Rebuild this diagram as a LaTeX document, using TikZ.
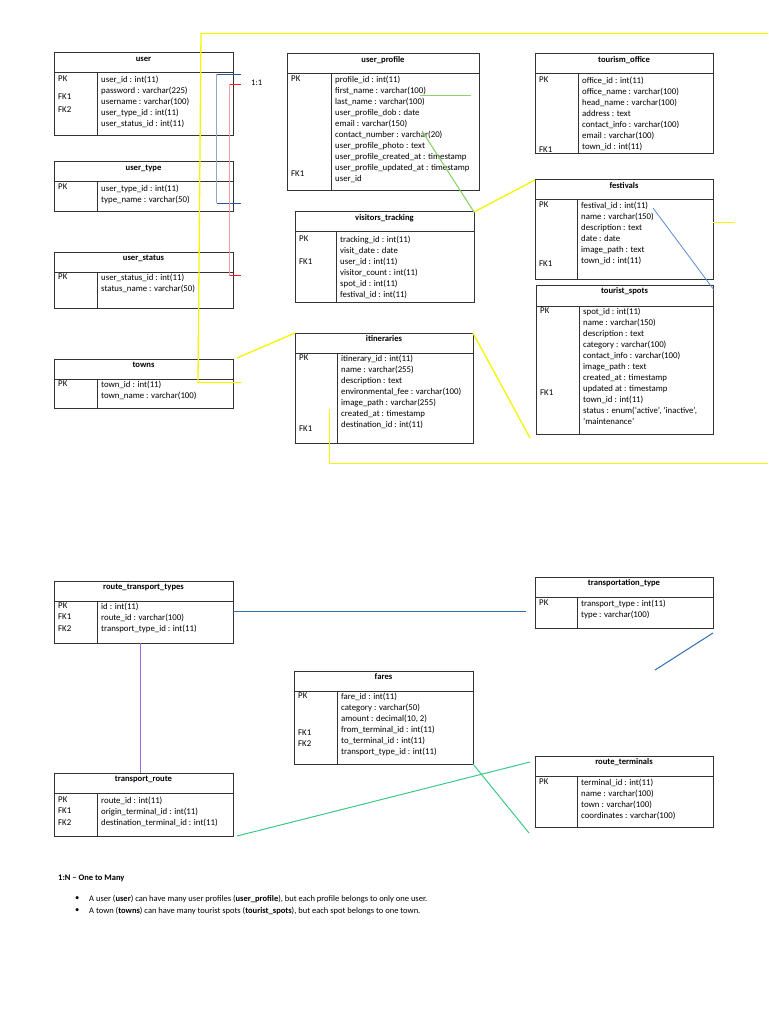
\documentclass[tikz,border=0pt]{standalone}
\usepackage{fontspec}
\setmainfont{Carlito}
\definecolor{ylw}{HTML}{F5F500}
\definecolor{navy}{HTML}{2F5597}
\definecolor{lightblue}{HTML}{8FAAC8}
\definecolor{redl}{HTML}{FF1A1A}
\definecolor{pinkl}{HTML}{FF9C9C}
\definecolor{grnA}{HTML}{8FD070}
\definecolor{grnB}{HTML}{3CC985}
\definecolor{purp}{HTML}{9B6FD6}
\definecolor{steel}{HTML}{2F6FB0}
\definecolor{thinblue}{HTML}{5B8BD6}
\begin{document}
\begin{tikzpicture}[x=1pt,y=-1pt,
  tbl/.style={draw=black!80, line width=1pt, inner sep=0pt, outer sep=0pt, anchor=north west},
  tline/.style={draw=black!80, line width=1pt},
  ttl/.style={font=\fontsize{8.6}{10}\selectfont\bfseries, inner sep=0pt, anchor=center},
  fld/.style={font=\fontsize{8.8}{11}\selectfont, align=left, anchor=north west, inner sep=0pt},
  keyl/.style={font=\fontsize{8.8}{11}\selectfont, anchor=west, inner sep=0pt},
  yl/.style={draw=ylw, line width=1.3pt},
  txt/.style={font=\fontsize{8.5}{11}\selectfont, anchor=west, inner sep=0pt}
  ]
\useasboundingbox (0,0) rectangle (768,1024);
\fill[white] (0,0) rectangle (768,1024);

% ---------- user ----------
\node[tbl, minimum width=179pt, minimum height=83pt] (user) at (54,53) {};
\draw[tline] (54,73) -- (233,73); \draw[tline] (97,73) -- (97,136);
\node[ttl] (userT) at (143.5,59) {user};
\node[keyl] (userK1) at (58,79) {PK};
\node[keyl] (userK2) at (58,97) {FK1};
\node[keyl] (userK3) at (58,110) {FK2};
\node[fld] (userF) at (101,76) {user\_id : int(11)\\password : varchar(225)\\username : varchar(100)\\user\_type\_id : int(11)\\user\_status\_id : int(11)};

% ---------- user_type ----------
\node[tbl, minimum width=179pt, minimum height=50pt] (usertype) at (54,162) {};
\draw[tline] (54,182) -- (233,182); \draw[tline] (97,182) -- (97,212);
\node[ttl] (usertypeT) at (143.5,168) {user\_type};
\node[keyl] (usertypeK) at (58,187) {PK};
\node[fld] (usertypeF) at (101,185) {user\_type\_id : int(11)\\type\_name : varchar(50)};

% ---------- user_status ----------
\node[tbl, minimum width=179pt, minimum height=56pt] (userstatus) at (54,252) {};
\draw[tline] (54,272) -- (233,272); \draw[tline] (97,272) -- (97,308);
\node[ttl] (userstatusT) at (143.5,258) {user\_status};
\node[keyl] (userstatusK) at (58,277) {PK};
\node[fld] (userstatusF) at (101,274) {user\_status\_id : int(11)\\status\_name : varchar(50)};

% ---------- towns ----------
\node[tbl, minimum width=179pt, minimum height=49pt] (towns) at (54,359) {};
\draw[tline] (54,379) -- (233,379); \draw[tline] (97,379) -- (97,408);
\node[ttl] (townsT) at (143.5,365) {towns};
\node[keyl] (townsK) at (58,384) {PK};
\node[fld] (townsF) at (101,381) {town\_id : int(11)\\town\_name : varchar(100)};

% ---------- user_profile ----------
\node[tbl, minimum width=192pt, minimum height=137pt] (userprofile) at (287,54) {};
\draw[tline] (287,74) -- (479,74); \draw[tline] (331,74) -- (331,191);
\node[ttl] (userprofileT) at (383,60) {user\_profile};
\node[keyl] (userprofileK1) at (291,79) {PK};
\node[keyl] (userprofileK2) at (291,174) {FK1};
\node[fld] (userprofileF) at (335,76) {profile\_id : int(11)\\first\_name : varchar(100)\\last\_name : varchar(100)\\user\_profile\_dob : date\\email : varchar(150)\\contact\_number : varchar(20)\\user\_profile\_photo : text\\user\_profile\_created\_at : timestamp\\user\_profile\_updated\_at : timestamp\\user\_id};

% ---------- tourism_office ----------
\node[tbl, minimum width=178pt, minimum height=100pt] (tourismoffice) at (535,54) {};
\draw[tline] (535,74) -- (713,74); \draw[tline] (578,74) -- (578,154);
\node[ttl] (tourismofficeT) at (624,60) {tourism\_office};
\node[keyl] (tourismofficeK1) at (539,80) {PK};
\node[keyl] (tourismofficeK2) at (539,150) {FK1};
\node[fld] (tourismofficeF) at (582,77) {office\_id : int(11)\\office\_name : varchar(100)\\head\_name : varchar(100)\\address : text\\contact\_info : varchar(100)\\email : varchar(100)\\town\_id : int(11)};

% ---------- festivals ----------
\node[tbl, minimum width=178pt, minimum height=99pt] (festivals) at (535,180) {};
\draw[tline] (535,200) -- (713,200); \draw[tline] (577,200) -- (577,279);
\node[ttl] (festivalsT) at (624,186) {festivals};
\node[keyl] (festivalsK1) at (539,205) {PK};
\node[keyl] (festivalsK2) at (539,264) {FK1};
\node[fld] (festivalsF) at (581,202) {festival\_id : int(11)\\name : varchar(150)\\description : text\\date : date\\image\_path : text\\town\_id : int(11)};

% ---------- tourist_spots ----------
\node[tbl, minimum width=177pt, minimum height=149pt] (touristspots) at (536,285) {};
\draw[tline] (536,306) -- (713,306); \draw[tline] (579,306) -- (579,434);
\node[ttl] (touristspotsT) at (624.5,291) {tourist\_spots};
\node[keyl] (touristspotsK1) at (540,311) {PK};
\node[keyl] (touristspotsK2) at (540,393) {FK1};
\node[fld] (touristspotsF) at (583,308) {spot\_id : int(11)\\name : varchar(150)\\description : text\\category : varchar(100)\\contact\_info : varchar(100)\\image\_path : text\\created\_at : timestamp\\updated at : timestamp\\town\_id : int(11)\\status : enum(`active', `inactive',\\`maintenance'};

% ---------- visitors_tracking ----------
\node[tbl, minimum width=179pt, minimum height=90pt] (visitors) at (295,212) {};
\draw[tline] (295,232) -- (474,232); \draw[tline] (336,232) -- (336,302);
\node[ttl] (visitorsT) at (384.5,218) {visitors\_tracking};
\node[keyl] (visitorsK1) at (299,239) {PK};
\node[keyl] (visitorsK2) at (299,262) {FK1};
\node[fld] (visitorsF) at (340,236) {tracking\_id : int(11)\\visit\_date : date\\user\_id : int(11)\\visitor\_count : int(11)\\spot\_id : int(11)\\festival\_id : int(11)};

% ---------- itineraries ----------
\node[tbl, minimum width=178pt, minimum height=110pt] (itineraries) at (295,333) {};
\draw[tline] (295,353) -- (473,353); \draw[tline] (337,353) -- (337,443);
\node[ttl] (itinerariesT) at (384,339) {itineraries};
\node[keyl] (itinerariesK1) at (299,358) {PK};
\node[keyl] (itinerariesK2) at (299,429) {FK1};
\node[fld] (itinerariesF) at (341,355) {itinerary\_id : int(11)\\name : varchar(255)\\description : text\\environmental\_fee : varchar(100)\\image\_path : varchar(255)\\created\_at : timestamp\\destination\_id : int(11)};

% ---------- route_transport_types ----------
\node[tbl, minimum width=179pt, minimum height=62pt] (rtt) at (54,581) {};
\draw[tline] (54,601) -- (233,601); \draw[tline] (97,601) -- (97,643);
\node[ttl] (rttT) at (143.5,587) {route\_transport\_types};
\node[keyl] (rttK1) at (58,605.5) {PK};
\node[keyl] (rttK2) at (58,617) {FK1};
\node[keyl] (rttK3) at (58,629) {FK2};
\node[fld] (rttF) at (101,603) {id : int(11)\\route\_id : varchar(100)\\transport\_type\_id : int(11)};

% ---------- transport_route ----------
\node[tbl, minimum width=179pt, minimum height=63pt] (troute) at (54,773) {};
\draw[tline] (54,793) -- (233,793); \draw[tline] (97,793) -- (97,836);
\node[ttl] (trouteT) at (143.5,779) {transport\_route};
\node[keyl] (trouteK1) at (58,799.5) {PK};
\node[keyl] (trouteK2) at (58,810.5) {FK1};
\node[keyl] (trouteK3) at (58,822.5) {FK2};
\node[fld] (trouteF) at (101,796.5) {route\_id : int(11)\\origin\_terminal\_id : int(11)\\destination\_terminal\_id : int(11)};

% ---------- fares ----------
\node[tbl, minimum width=179pt, minimum height=93pt] (fares) at (294,671) {};
\draw[tline] (294,691) -- (473,691); \draw[tline] (337,691) -- (337,764);
\node[ttl] (faresT) at (383.5,677) {fares};
\node[keyl] (faresK1) at (298,696) {PK};
\node[keyl] (faresK2) at (298,733) {FK1};
\node[keyl] (faresK3) at (298,744) {FK2};
\node[fld] (faresF) at (341,693) {fare\_id : int(11)\\category : varchar(50)\\amount : decimal(10, 2)\\from\_terminal\_id : int(11)\\to\_terminal\_id : int(11)\\transport\_type\_id : int(11)};

% ---------- transportation_type ----------
\node[tbl, minimum width=178pt, minimum height=51pt] (ttype) at (535,577) {};
\draw[tline] (535,597) -- (713,597); \draw[tline] (577,597) -- (577,628);
\node[ttl] (ttypeT) at (624,583) {transportation\_type};
\node[keyl] (ttypeK) at (539,603) {PK};
\node[fld] (ttypeF) at (581,600) {transport\_type : int(11)\\type : varchar(100)};

% ---------- route_terminals ----------
\node[tbl, minimum width=178pt, minimum height=71pt] (rterm) at (535,756) {};
\draw[tline] (535,776) -- (713,776); \draw[tline] (577,776) -- (577,827);
\node[ttl] (rtermT) at (624,762) {route\_terminals};
\node[keyl] (rtermK) at (539,782) {PK};
\node[fld] (rtermF) at (581,779) {terminal\_id : int(11)\\name : varchar(100)\\town : varchar(100)\\coordinates : varchar(100)};

% ---------- connector end points ----------
\coordinate (yA) at (768,33.5);
\coordinate (yB) at (201,33.5);
\coordinate (yC) at (198,382.5);
\coordinate (yD) at (241,382.5);
\coordinate (yE) at (237,358);
\coordinate (yF) at (530,438);
\coordinate (yG) at (329.5,409);
\coordinate (yH) at (329.5,463.5);
\coordinate (yI) at (768,463.5);
\coordinate (yJ) at (713,222.5);
\coordinate (yK) at (735,222.5);
\coordinate (gA) at (422,131);
\coordinate (gB) at (420,95.5);
\coordinate (gC) at (471,95.5);
\coordinate (bA) at (241,74.5);
\coordinate (bB) at (216.5,74.5);
\coordinate (bC) at (216.5,203.5);
\coordinate (bD) at (241,203.5);
\coordinate (rA) at (241,84.5);
\coordinate (rB) at (229.5,84.5);
\coordinate (rC) at (229.5,275.5);
\coordinate (rD) at (241,275.5);
\coordinate (fA) at (653,208);
\coordinate (fB) at (714,290);
\coordinate (sA) at (233,611.5);
\coordinate (sB) at (526,611.5);
\coordinate (sC) at (655,670);
\coordinate (sD) at (713,633);
\coordinate (pA) at (140.5,643);
\coordinate (pB) at (140.5,773);
\coordinate (tA) at (237,836);
\coordinate (tB) at (530,762);
\coordinate (tC) at (529,833);

% ---------- connectors ----------
\draw[yl] (yA) -- (yB) -- (yC) -- (yD);
\draw[yl] (yE) -- (itineraries.north west);
\draw[yl] (itineraries.north east) -- (yF);
\draw[yl] (yG) -- (yH) -- (yI);
\draw[yl] (yJ) -- (yK);
\draw[yl] (visitors.north east) -- (festivals.north west);
\draw[draw=grnA, line width=1.1pt] (gA) -- (visitors.north east);
\draw[draw=grnA, line width=1.1pt] (gB) -- (gC);
\draw[draw=lightblue, line width=1.2pt] (bB) -- (bC);
\draw[draw=navy, line width=1.1pt] (bA) -- (bB);
\draw[draw=navy, line width=1.1pt] (bC) -- (bD);
\draw[draw=pinkl, line width=1.2pt] (rB) -- (rC);
\draw[draw=redl, line width=1.1pt] (rA) -- (rB);
\draw[draw=redl, line width=1.1pt] (rC) -- (rD);
\node[txt] (oneone) at (251,83) {1:1};
\draw[draw=thinblue, line width=0.8pt] (fA) -- (fB);
\draw[draw=steel, line width=1.1pt] (sA) -- (sB);
\draw[draw=steel, line width=1pt] (sC) -- (sD);
\draw[draw=purp, line width=1.1pt] (pA) -- (pB);
\draw[draw=grnB, line width=1pt] (tA) -- (tB);
\draw[draw=grnB, line width=1pt] (fares.south east) -- (tC);

% ---------- notes ----------
\node[txt, font=\fontsize{8.5}{11}\selectfont\bfseries] (noteH) at (58,878) {1:N – One to Many};
\node[txt] (b1) at (75,899) {•};
\node[txt] (n1) at (89,899) {A user (\textbf{user}) can have many user profiles (\textbf{user\_profile}), but each profile belongs to only one user.};
\node[txt] (b2) at (75,911) {•};
\node[txt] (n2) at (89,911) {A town (\textbf{towns}) can have many tourist spots (\textbf{tourist\_spots}), but each spot belongs to one town.};
\end{tikzpicture}
\end{document}
